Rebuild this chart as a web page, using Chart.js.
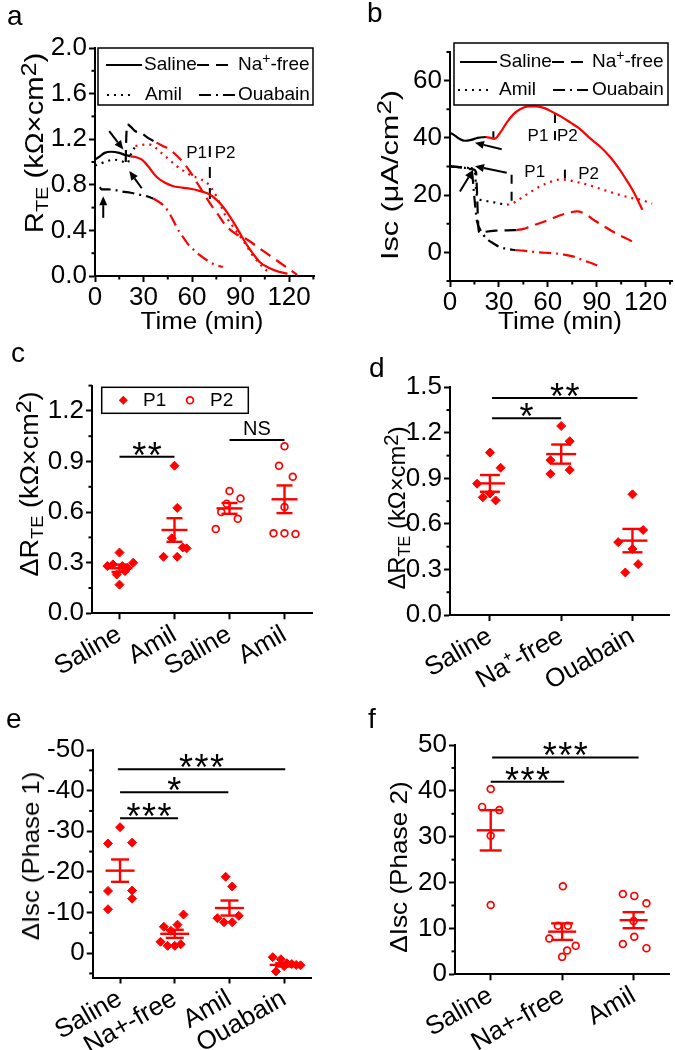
<!DOCTYPE html>
<html>
<head>
<meta charset="utf-8">
<script src="https://cdn.jsdelivr.net/npm/chart.js@4.4.1/dist/chart.umd.min.js"></script>
<style>
  html, body { margin: 0; padding: 0; background: #fff; }
  body { position: relative; width: 675px; height: 1050px; overflow: hidden; font-family: "Liberation Sans", Arial, sans-serif; }
  canvas { position: absolute; }
  .txt { position: absolute; white-space: nowrap; line-height: 1; color: #000; }
  .letter { font-size: 28px; }
  .title sub { font-size: 0.68em; vertical-align: -0.3em; line-height: 0; }
  .title sup { font-size: 0.85em; vertical-align: 0.32em; line-height: 0; }
</style>
</head>
<body>
<canvas id="pa"></canvas>
<canvas id="pb"></canvas>
<canvas id="pc"></canvas>
<canvas id="pd"></canvas>
<canvas id="pe"></canvas>
<canvas id="pf"></canvas>
<div class="txt letter" style="left:7px;top:2px">a</div>
<div class="txt letter" style="left:367px;top:-1px">b</div>
<div class="txt letter" style="left:11px;top:339px">c</div>
<div class="txt letter" style="left:369px;top:354px">d</div>
<div class="txt letter" style="left:6px;top:705px">e</div>
<div class="txt letter" style="left:368px;top:705px">f</div>
<script>
const FONT = '"Liberation Sans", Arial, Helvetica, sans-serif';
const RED = '#ff0000';
const DASH = { solid: [], dash: [12, 7], dot: [2, 5], dashdot: [12, 5, 2, 5] };

// ---------- a : R_TE time course ----------
const aTimeTicks = [0, 30, 60, 90, 120];
const aTimeMinor = [15, 45, 75, 105, 135];
const aRteTicks = [0, 0.4, 0.8, 1.2, 1.6, 2.0];
const aRteMinor = [0.2, 0.6, 1.0, 1.4, 1.8];
const aSalineBlack = [[0,1.02],[3,1.05],[6,1.08],[10,1.09],[15,1.08],[19,1.06],[22,1.05]];
const aSalineRed = [[22,1.05],[26,1.04],[29,1.02],[33,0.96],[38,0.87],[43,0.82],[48,0.79],[54,0.775],[59,0.765],[65,0.745],[71,0.715],[75,0.67],[79,0.61],[83,0.53],[87,0.44],[91,0.34],[94,0.27],[98,0.19],[102,0.12],[107,0.075],[112,0.045],[119,0.02]];
const aNaBlack = [[19,1.0],[19.3,1.2],[20,1.33],[22,1.31],[25,1.27],[29,1.25],[33,1.21],[38,1.17]];
const aNaRed = [[38,1.17],[42,1.14],[46,1.11],[51,1.05],[56,0.97],[60,0.89],[63,0.82],[67,0.73],[71,0.64],[76,0.54],[81,0.44],[87,0.37],[94,0.32],[100,0.26],[106,0.20],[111,0.15],[116,0.10],[121,0.05],[125,0.01]];
const aAmilBlack = [[0,0.97],[4,0.99],[8,1.01],[12,1.02],[16,1.01],[20,0.99],[22,1.06],[25,1.14]];
const aAmilRed = [[25,1.14],[29,1.15],[33,1.155],[37,1.13],[41,1.08],[46,1.02],[50,0.97],[55,0.92],[60,0.88],[65,0.85],[69,0.82],[72,0.77],[75,0.70],[78,0.61],[81,0.52],[85,0.44],[89,0.36],[93,0.28],[97,0.19],[101,0.12],[105,0.06],[109,0.02]];
const aOuaBlack = [[3,0.78],[4,0.76],[8,0.76],[12,0.755],[17,0.74],[22,0.73],[27,0.715],[32,0.70],[36,0.68]];
const aOuaRed = [[36,0.68],[40,0.645],[43,0.61],[46,0.55],[49,0.47],[52,0.39],[55,0.33],[58,0.27],[61,0.23],[65,0.18],[69,0.14],[74,0.10],[79,0.08]];
const aMarkers = [[71, 1.14, 0.66]];
const aArrows = [[8.8,1.27,17.5,1.11],[28.9,0.77,21.2,0.92],[5.1,0.51,5.1,0.70]];
const aNotes = [[62.8,1.08,'P1'],[80.4,1.08,'P2']];

// ---------- b : Isc time course ----------
const bTimeTicks = [0, 30, 60, 90, 120];
const bTimeMinor = [15, 45, 75, 105, 135];
const bIscTicks = [0, 20, 40, 60];
const bIscMinor = [-10, 10, 30, 50, 70];
const bSalineBlack = [[0,41.8],[3,40.8],[6,39.6],[9,39.0],[13,39.3],[17,40.0],[22,40.3]];
const bSalineRed = [[22,40.3],[25,40.0],[27.5,39.7],[31,42.0],[35,45.5],[39,48.3],[43,50.0],[48,51.0],[53,51.0],[58,50.4],[63,49.0],[68,47.5],[74,45.3],[80,43.0],[86,39.8],[92,37.0],[98,33.5],[104,29.0],[108,25.5],[112,21.8],[115,18.5],[118,14.9]];
const bAmilBlack = [[0,30.1],[5,29.8],[10,29.5],[14,29.3],[15.5,27],[16,22],[17,19],[19,18.3],[24,17.8],[30,17.1],[35,16.6]];
const bAmilRed = [[35,16.6],[40,17.6],[45,19.5],[50,21.3],[55,23.0],[61,24.5],[67,25.4],[72,25.3],[76,24.8],[82,24.0],[88,23.0],[96,21.5],[104,20.1],[110,19.2],[117,18.4],[124,17.0]];
const bNaBlack = [[0,30.0],[5,29.8],[10,29.3],[14,29.0],[16,28.0],[16.5,22],[17,14],[17.5,8],[18.4,6.7],[22,7.2],[28,7.6],[35,7.7],[41,7.8]];
const bNaRed = [[41,7.8],[45,8.2],[49,9.0],[55,10.2],[61,11.4],[66,12.6],[72,13.7],[78,14.3],[83,13.4],[88,11.4],[94,9.3],[100,7.2],[107,5.2],[114,3.2]];
const bOuaBlack = [[0,30.0],[6,29.8],[11,29.5],[13.5,28],[14.5,22],[15.5,16],[16.5,11],[18.5,8.0],[20.5,6.1],[23,4.5],[26.5,3.2],[30,2.0],[35,1.2],[40,0.8]];
const bOuaRed = [[40,0.8],[45,0.6],[50,0.3],[55,0.0],[60,-0.2],[65,-0.4],[70,-0.8],[76,-1.5],[82,-2.8],[87,-3.8],[91,-4.7]];
const bMarkers = [[26.6,42.3,39.4],[64.4,48.3,37.1],[37.8,27.1,17.3],[70.5,28.9,24.8]];
const bArrows = [[31.7,36,15.3,38.3],[34.8,27.8,15.3,30.1],[6.1,21.3,14.3,28.9]];
const bNotes = [[54,40.4,'P1'],[72,40.4,'P2'],[52,27.8,'P1'],[85,27.2,'P2']];

// ---------- c : delta R_TE, P1 / P2 ----------
const cCategories = ['Saline', 'Amil', 'Saline', 'Amil'];
const cTicks = [0, 0.3, 0.6, 0.9, 1.2];
const cMinor = [0.15, 0.45, 0.75, 1.05, 1.35];
const cP1Saline = [0.36, 0.29, 0.28, 0.30, 0.25, 0.23, 0.17, 0.27, 0.28];
const cP1SalineJit = [0, -0.12, 0.05, 0.25, 0.1, -0.05, 0, 0.15, -0.22];
const cP1Amil = [0.875, 0.625, 0.445, 0.335, 0.335, 0.39, 0.385];
const cP1AmilJit = [0, 0.05, -0.05, -0.2, 0.05, 0.15, 0.22];
const cP2Saline = [0.725, 0.68, 0.65, 0.60, 0.56, 0.50];
const cP2SalineJit = [0, 0.2, -0.05, -0.15, 0.15, -0.25];
const cP2Amil = [0.99, 0.875, 0.81, 0.63, 0.475, 0.475, 0.47];
const cP2AmilJit = [0, -0.1, 0.15, 0, -0.2, 0, 0.2];
const cMeans = [0.267, 0.494, 0.622, 0.676];
const cSems = [0.022, 0.07, 0.032, 0.082];
const cSig = [[1, 2, 0.928, '**'], [3, 4, 1.027, 'NS']];

// ---------- d : delta R_TE by condition ----------
const dCategories = ['Saline', 'Na\u207A-free', 'Ouabain'];
const dTicks = [0, 0.3, 0.6, 0.9, 1.2, 1.5];
const dMinor = [0.15, 0.45, 0.75, 1.05, 1.35];
const dSaline = [1.07, 0.97, 0.865, 0.80, 0.775, 0.755];
const dSalineJit = [0, 0.15, -0.18, 0, -0.1, 0.08];
const dNaFree = [1.245, 1.145, 1.02, 0.955, 0.93];
const dNaFreeJit = [0, 0.12, -0.15, 0.12, -0.15];
const dOuabain = [0.795, 0.56, 0.48, 0.435, 0.335, 0.28];
const dOuabainJit = [0, 0.15, -0.2, 0, 0.08, -0.1];
const dMeans = [0.867, 1.06, 0.49];
const dSems = [0.055, 0.063, 0.077];
const dSig = [[1.03, 2, 1.296, '*'], [1.03, 3.07, 1.43, '**']];

// ---------- e : delta Isc phase 1 ----------
const eCategories = ['Saline', 'Na+-free', 'Amil', 'Ouabain'];
const eTicks = [-50, -40, -30, -20, -10, 0];
const eMinor = [-45, -35, -25, -15, -5, 5];
const eSaline = [-31, -27, -27.2, -15.3, -15.4, -13.4, -10.8];
const eSalineJit = [0, -0.22, 0.22, -0.22, 0.22, 0.22, -0.22];
const eNaFree = [-6.5, -7, -9.5, -2.8, -1.8, -1.8, -2.2, -5.5];
const eNaFreeJit = [-0.2, 0.05, 0.16, -0.26, 0, -0.13, 0.11, -0.07];
const eAmil = [-18.8, -16.4, -8.6, -7.6, -7.6, -9.2];
const eAmilJit = [-0.07, 0.05, -0.22, -0.1, 0.05, 0.17];
const eOuabain = [1, 1.5, 2.5, 2.9, 2.7, 4.5, 3.2, 3];
const eOuabainJit = [-0.21, -0.06, 0.05, 0.22, 0.14, -0.15, 0, 0.3];
const eMeans = [-20.3, -4.75, -11.1, 2.9];
const eSems = [2.75, 1.0, 1.85, 0.4];
const eSig = [[1, 2.06, -33.2, '***'], [1, 2.98, -39.6, '*'], [0.96, 4.02, -45.25, '***']];

// ---------- f : delta Isc phase 2 ----------
const fCategories = ['Saline', 'Na+-free', 'Amil'];
const fTicks = [0, 10, 20, 30, 40, 50];
const fMinor = [5, 15, 25, 35, 45];
const fSaline = [40.4, 36.5, 35.8, 30.2, 15.1];
const fSalineJit = [0, -0.12, 0.12, 0, 0];
const fNaFree = [19.2, 10.6, 10.6, 7.8, 6.2, 5.2, 3.8];
const fNaFreeJit = [0.01, -0.06, 0.08, -0.18, 0.19, 0.07, 0];
const fAmil = [17.5, 17.1, 15.5, 11.6, 8.2, 6.6, 5.7];
const fAmilJit = [-0.15, 0.01, 0.18, 0, 0.01, -0.15, 0.18];
const fMeans = [31.4, 9.3, 11.8];
const fSems = [4.4, 1.8, 1.75];
const fSig = [[1, 2.03, 42, '***'], [1.02, 3.07, 47.3, '***']];

// ---------- helpers ----------
function curve(pts, color, style) {
  return { type: 'line', data: pts.map(p => ({ x: p[0], y: p[1] })), borderColor: color, borderWidth: 2.2,
    borderDash: DASH[style], pointRadius: 0, cubicInterpolationMode: 'monotone', fill: false };
}
function markerLines(list, dash) {
  return list.map(m => ({ type: 'line', data: [{ x: m[0], y: m[1] }, { x: m[0], y: m[2] }],
    borderColor: '#000', borderWidth: 2, borderDash: dash, pointRadius: 0, tension: 0 }));
}
function points(groups, jits, firstCat) {
  const out = [];
  groups.forEach((vals, g) => vals.forEach((v, k) => out.push({ x: firstCat + g + jits[g][k], y: v })));
  return out;
}
function filledDiamonds(data) {
  return { type: 'scatter', data, pointStyle: 'rectRot', pointRadius: 4.5, pointBackgroundColor: RED,
    pointBorderColor: RED, pointBorderWidth: 1, showLine: false, clip: false };
}
function openCircles(data) {
  return { type: 'scatter', data, pointStyle: 'circle', pointRadius: 3.4, pointBackgroundColor: '#fff',
    pointBorderColor: RED, pointBorderWidth: 1.7, showLine: false, clip: false };
}
function seg(ctx, x1, y1, x2, y2) { ctx.beginPath(); ctx.moveTo(x1, y1); ctx.lineTo(x2, y2); ctx.stroke(); }
function richText(ctx, str, x, y, size) {
  const parts = str.split(/\^(.)/);
  ctx.textAlign = 'left'; ctx.textBaseline = 'middle';
  parts.forEach((p, i) => {
    const sup = i % 2 === 1;
    ctx.font = (sup ? Math.round(size * 0.72) : size) + 'px ' + FONT;
    ctx.fillText(p, x, sup ? y - size * 0.32 : y);
    x += ctx.measureText(p).width;
  });
}
function arrow(ctx, x1, y1, x2, y2) {
  const a = Math.atan2(y2 - y1, x2 - x1), L = 9, W = 4;
  const bx = x2 - L * Math.cos(a), by = y2 - L * Math.sin(a);
  seg(ctx, x1, y1, bx, by);
  ctx.beginPath(); ctx.moveTo(x2, y2);
  ctx.lineTo(bx + W * Math.sin(a), by - W * Math.cos(a));
  ctx.lineTo(bx - W * Math.sin(a), by + W * Math.cos(a));
  ctx.closePath(); ctx.fill();
}

const deco = {
  id: 'deco',
  afterDatasetsDraw(chart, args, o) {
    const ctx = chart.ctx, xs = chart.scales.x, ys = chart.scales.y, ca = chart.chartArea;
    const X = v => xs.getPixelForValue(v), Y = v => ys.getPixelForValue(v);
    const ox = o.origin[0], oy = o.origin[1];
    ctx.save();
    ctx.strokeStyle = '#000'; ctx.fillStyle = '#000'; ctx.lineWidth = 2;
    (o.xMinor || []).forEach(v => seg(ctx, X(v), ca.bottom, X(v), ca.bottom + 3.5));
    (o.yMinor || []).forEach(v => seg(ctx, ca.left, Y(v), ca.left - 3.5, Y(v)));

    if (o.means) {
      ctx.strokeStyle = RED; ctx.lineWidth = 2.4;
      o.means.forEach((m, i) => {
        const px = X(i + 1), s = o.sems[i];
        seg(ctx, px - o.hw, Y(m), px + o.hw, Y(m));
        seg(ctx, px, Y(m - s), px, Y(m + s));
        seg(ctx, px - o.cw, Y(m + s), px + o.cw, Y(m + s));
        seg(ctx, px - o.cw, Y(m - s), px + o.cw, Y(m - s));
      });
    }

    ctx.strokeStyle = '#000'; ctx.fillStyle = '#000'; ctx.lineWidth = 2;
    (o.sig || []).forEach(([a, b, y, label]) => {
      seg(ctx, X(a), Y(y), X(b), Y(y));
      const cx = (X(a) + X(b)) / 2;
      ctx.textAlign = 'center'; ctx.textBaseline = 'alphabetic';
      if (/^\*+$/.test(label)) {
        ctx.font = '36px ' + FONT;
        for (let k = 0; k < label.length; k++) ctx.fillText('*', cx + (k - (label.length - 1) / 2) * 15.5, Y(y) + 11);
      } else {
        ctx.font = '20px ' + FONT;
        ctx.fillText(label, cx, Y(y) - 5);
      }
    });

    ctx.lineWidth = 2;
    (o.arrows || []).forEach(([x1, y1, x2, y2]) => arrow(ctx, X(x1), Y(y1), X(x2), Y(y2)));

    ctx.font = '17px ' + FONT; ctx.textAlign = 'center'; ctx.textBaseline = 'middle';
    (o.notes || []).forEach(([x, y, t]) => ctx.fillText(t, X(x), Y(y)));

    if (o.legend) {
      const Lg = o.legend, bx = Lg.box[0] - ox, by = Lg.box[1] - oy;
      ctx.lineWidth = 1.5; ctx.strokeStyle = '#000';
      ctx.strokeRect(bx, by, Lg.box[2], Lg.box[3]);
      Lg.items.forEach(it => {
        const y = it.y - oy;
        if (it.line) {
          ctx.lineWidth = 2.2; ctx.setLineDash(DASH[it.line]);
          seg(ctx, it.x1 - ox, y, it.x2 - ox, y); ctx.setLineDash([]);
        }
        if (it.mark === 'diamond') {
          const r = 4.5, px = it.px - ox;
          ctx.fillStyle = RED; ctx.beginPath();
          ctx.moveTo(px, y - r); ctx.lineTo(px + r, y); ctx.lineTo(px, y + r); ctx.lineTo(px - r, y); ctx.closePath(); ctx.fill();
        } else if (it.mark === 'circle') {
          ctx.strokeStyle = RED; ctx.lineWidth = 1.7; ctx.beginPath();
          ctx.arc(it.px - ox, y, 3.4, 0, Math.PI * 2); ctx.stroke(); ctx.strokeStyle = '#000';
        }
        ctx.fillStyle = '#000';
        richText(ctx, it.text, it.tx - ox, y, 19);
      });
    }
    ctx.restore();
  }
};

function axis(a) {
  return {
    type: 'linear', min: a.min, max: a.max, reverse: !!a.reverse,
    afterBuildTicks: s => { s.ticks = a.ticks.map(v => ({ value: v })); },
    ticks: { autoSkip: false, color: '#000', font: { family: FONT, size: a.size || 26 }, padding: a.pad !== undefined ? a.pad : 2,
      maxRotation: a.rot || 0, minRotation: a.rot || 0, callback: a.label },
    grid: { drawOnChartArea: false, drawTicks: true, tickLength: 6, tickWidth: 2, tickColor: '#000', color: '#000' },
    border: { display: true, color: '#000', width: 2 }
  };
}

function makeChart(id, box, area, spec) {
  const cv = document.getElementById(id);
  cv.width = box[2]; cv.height = box[3];
  cv.style.left = box[0] + 'px'; cv.style.top = box[1] + 'px';
  cv.style.width = box[2] + 'px'; cv.style.height = box[3] + 'px';
  const yW = area[0] - box[0], xH = box[1] + box[3] - area[3];
  const xa = axis(spec.x), ya = axis(spec.y);
  xa.afterFit = s => { s.height = xH; s.paddingLeft = 0; s.paddingRight = 0; };
  ya.afterFit = s => { s.width = yW; s.paddingTop = 0; s.paddingBottom = 0; };
  return new Chart(cv.getContext('2d'), {
    type: 'line',
    data: { datasets: spec.datasets },
    options: {
      responsive: false, animation: false, events: [],
      layout: { padding: { left: 0, bottom: 0, top: area[1] - box[1], right: box[0] + box[2] - area[2] } },
      plugins: { legend: { display: false }, tooltip: { enabled: false },
        deco: Object.assign({ origin: [box[0], box[1]] }, spec.deco) },
      scales: { x: xa, y: ya }
    },
    plugins: [deco]
  });
}

const catLabel = cats => v => cats[Math.round(v) - 1];

// a
makeChart('pa', [0, 0, 337, 340], [95, 48, 314, 276], {
  x: { min: 0, max: 135.4, ticks: aTimeTicks, label: v => String(v), pad: 0 },
  y: { min: 0, max: 2.0, ticks: aRteTicks, label: v => v.toFixed(1) },
  datasets: [
    curve(aSalineBlack, '#000', 'solid'), curve(aSalineRed, RED, 'solid'),
    curve(aNaBlack, '#000', 'dash'), curve(aNaRed, RED, 'dash'),
    curve(aAmilBlack, '#000', 'dot'), curve(aAmilRed, RED, 'dot'),
    curve(aOuaBlack, '#000', 'dashdot'), curve(aOuaRed, RED, 'dashdot'),
    ...markerLines(aMarkers, [11, 10])
  ],
  deco: { xMinor: aTimeMinor, yMinor: aRteMinor, arrows: aArrows, notes: aNotes,
    legend: { box: [98, 48, 215, 57], items: [
      { line: 'solid', x1: 106, x2: 142, tx: 144, y: 65, text: 'Saline' },
      { line: 'dash', x1: 197, x2: 235, tx: 238, y: 65, text: 'Na^+-free' },
      { line: 'dot', x1: 107, x2: 135, tx: 145, y: 95, text: 'Amil' },
      { line: 'dashdot', x1: 199, x2: 235, tx: 238, y: 95, text: 'Ouabain' } ] } }
});

// b
makeChart('pb', [337, 0, 338, 340], [450, 52, 672, 281], {
  x: { min: 0, max: 136.2, ticks: bTimeTicks, label: v => String(v), pad: 0 },
  y: { min: -10, max: 70, ticks: bIscTicks, label: v => String(v) },
  datasets: [
    curve(bSalineBlack, '#000', 'solid'), curve(bSalineRed, RED, 'solid'),
    curve(bNaBlack, '#000', 'dash'), curve(bNaRed, RED, 'dash'),
    curve(bAmilBlack, '#000', 'dot'), curve(bAmilRed, RED, 'dot'),
    curve(bOuaBlack, '#000', 'dashdot'), curve(bOuaRed, RED, 'dashdot'),
    ...markerLines(bMarkers, [9, 8])
  ],
  deco: { xMinor: bTimeMinor, yMinor: bIscMinor, arrows: bArrows, notes: bNotes,
    legend: { box: [454, 43, 214, 62], items: [
      { line: 'solid', x1: 460, x2: 497, tx: 499, y: 62, text: 'Saline' },
      { line: 'dash', x1: 552, x2: 590, tx: 592, y: 62, text: 'Na^+-free' },
      { line: 'dot', x1: 458, x2: 488, tx: 499, y: 90, text: 'Amil' },
      { line: 'dashdot', x1: 553, x2: 588, tx: 592, y: 90, text: 'Ouabain' } ] } }
});

// c
makeChart('pc', [0, 335, 337, 370], [92, 385.6, 312, 613.3], {
  x: { min: 0.5, max: 4.5, ticks: [1, 2, 3, 4], label: catLabel(cCategories), rot: 30, size: 26, pad: 0 },
  y: { min: 0, max: 1.35, ticks: cTicks, label: v => v.toFixed(1) },
  datasets: [
    filledDiamonds(points([cP1Saline, cP1Amil], [cP1SalineJit, cP1AmilJit], 1)),
    openCircles(points([cP2Saline, cP2Amil], [cP2SalineJit, cP2AmilJit], 3))
  ],
  deco: { yMinor: cMinor, means: cMeans, sems: cSems, hw: 13, cw: 8, sig: cSig,
    legend: { box: [101.7, 387.3, 146.6, 26], items: [
      { mark: 'diamond', px: 123.3, tx: 143, y: 400.3, text: 'P1' },
      { mark: 'circle', px: 190, tx: 210, y: 400.3, text: 'P2' } ] } }
});

// d
makeChart('pd', [337, 335, 338, 370], [450, 387.3, 674, 615], {
  x: { min: 0.44, max: 3.52, ticks: [1, 2, 3], label: catLabel(dCategories), rot: 30, size: 26, pad: 0 },
  y: { min: 0, max: 1.5, ticks: dTicks, label: v => v.toFixed(1) },
  datasets: [
    filledDiamonds(points([dSaline, dNaFree, dOuabain], [dSalineJit, dNaFreeJit, dOuabainJit], 1))
  ],
  deco: { yMinor: dMinor, means: dMeans, sems: dSems, hw: 15, cw: 10, sig: dSig }
});

// e
makeChart('pe', [0, 700, 337, 350], [92.7, 750, 311.5, 977.5], {
  x: { min: 0.5, max: 4.5, ticks: [1, 2, 3, 4], label: catLabel(eCategories), rot: 30, size: 26, pad: 0 },
  y: { min: -50, max: 6, reverse: true, ticks: eTicks, label: v => String(v) },
  datasets: [
    filledDiamonds(points([eSaline, eNaFree, eAmil, eOuabain], [eSalineJit, eNaFreeJit, eAmilJit, eOuabainJit], 1))
  ],
  deco: { yMinor: eMinor, means: eMeans, sems: eSems, hw: 14.5, cw: 9, sig: eSig }
});

// f
makeChart('pf', [337, 700, 338, 350], [455, 745, 673, 974.3], {
  x: { min: 0.5, max: 3.5, ticks: [1, 2, 3], label: catLabel(fCategories), rot: 30, size: 26, pad: 0 },
  y: { min: 0, max: 50, ticks: fTicks, label: v => String(v) },
  datasets: [
    openCircles(points([fSaline, fNaFree, fAmil], [fSalineJit, fNaFreeJit, fAmilJit], 1))
  ],
  deco: { yMinor: fMinor, means: fMeans, sems: fSems, hw: 14, cw: 11, sig: fSig }
});

// axis titles: [html, centre x, centre y, length, font size, rotated]
const titles = [
  ['R<sub>TE</sub> (kΩ×cm<sup>2</sup>)', 34, 143, 180, 25, true],
  ['Time (min)', 201.5, 321, 123, 23, false],
  ['Isc (μA/cm<sup>2</sup>)', 390, 175, 170, 24, true],
  ['Time (min)', 560, 321, 124, 23, false],
  ['ΔR<sub>TE</sub> (kΩ×cm<sup>2</sup>)', 29, 484, 185, 25, true],
  ['ΔR<sub>TE</sub> (kΩ×cm<sup>2</sup>)', 397, 508, 163, 24, true],
  ['ΔIsc (Phase 1)', 31, 856, 168, 24, true],
  ['ΔIsc (Phase 2)', 399, 867, 171, 24, true]
];
titles.forEach(([html, cx, cy, len, size, rot]) => {
  const d = document.createElement('div');
  d.className = 'txt title'; d.innerHTML = html; d.style.fontSize = size + 'px';
  document.body.appendChild(d);
  const k = len / d.offsetWidth;
  d.style.left = cx + 'px'; d.style.top = cy + 'px';
  d.style.transform = 'translate(-50%,-50%) ' + (rot ? 'rotate(-90deg) ' : '') + 'scaleX(' + k.toFixed(3) + ')';
});
</script>
</body>
</html>
